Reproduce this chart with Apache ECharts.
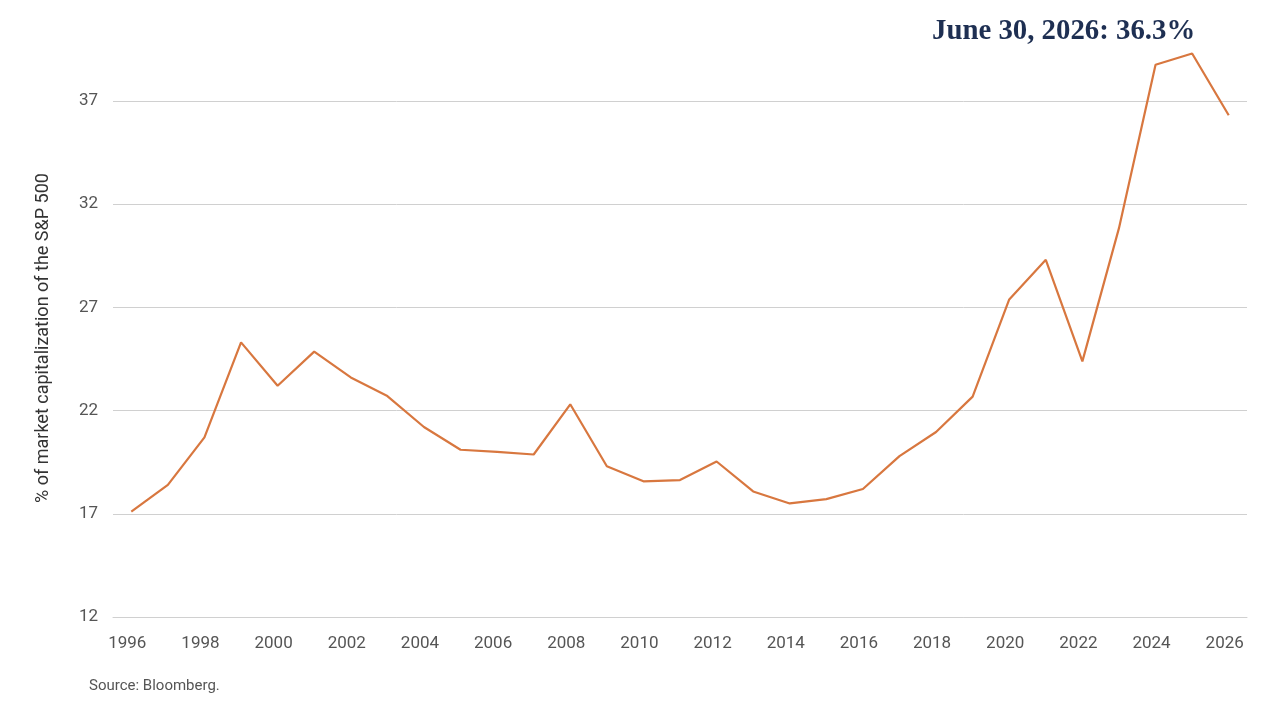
<!DOCTYPE html>
<html>
<head>
<meta charset="utf-8">
<style>
  html, body { margin: 0; padding: 0; background: #fff; }
  #chart { width: 1280px; height: 717px; }
</style>
<script src="https://cdn.jsdelivr.net/npm/echarts@6/dist/echarts.min.js"></script>
</head>
<body>
<div id="chart"></div>
<script>
const years = [
  '1996', '1997', '1998', '1999', '2000', '2001', '2002', '2003', '2004', '2005', '2006',
  '2007', '2008', '2009', '2010', '2011', '2012', '2013', '2014', '2015', '2016',
  '2017', '2018', '2019', '2020', '2021', '2022', '2023', '2024', '2025', '2026'
];
// share of S&P 500 market cap (%)
const shareValues = [
  17.1, 18.4, 20.7, 25.3, 23.2, 24.85, 23.6, 22.7, 21.2, 20.1, 20.0,
  19.87, 22.3, 19.3, 18.57, 18.63, 19.53, 18.08, 17.5, 17.71, 18.2,
  19.79, 20.96, 22.67, 27.38, 29.3, 24.38, 30.83, 38.74, 39.29, 36.3
];
const yTicks = { min: 12, max: 42, interval: 5 };
const annotationDate = 'June 30, 2026';

const chart = echarts.init(document.getElementById('chart'));
const lastValue = shareValues[shareValues.length - 1];

const option = {
  backgroundColor: '#ffffff',
  animation: false,
  grid: {
    left: 113, right: 33, top: -2.5, bottom: 100,
    containLabel: false,
    outerBoundsMode: 'none'
  },
  xAxis: {
    type: 'category',
    data: years,
    boundaryGap: true,
    axisLine: { show: true, lineStyle: { color: '#d0d0d0', width: 1 } },
    axisTick: { show: false },
    axisLabel: {
      interval: 1,
      color: '#555555',
      fontFamily: 'Roboto',
      fontSize: 17,
      margin: 18,
      padding: [0, 8, 0, 0]
    }
  },
  yAxis: {
    type: 'value',
    min: yTicks.min,
    max: yTicks.max,
    interval: yTicks.interval,
    axisLine: { show: false },
    axisTick: { show: false },
    axisLabel: {
      color: '#555555',
      fontFamily: 'Roboto',
      fontSize: 17,
      margin: 15,
      showMaxLabel: false
    },
    splitLine: { lineStyle: { color: '#d0d0d0', width: 1 } }
  },
  series: [{
    type: 'line',
    data: shareValues,
    symbol: 'none',
    lineStyle: { color: '#d8773f', width: 2.2 },
    clip: false
  }],
  graphic: [
    {
      type: 'text',
      left: 932,
      top: 17,
      style: {
        text: `${annotationDate}: ${lastValue}%`,
        font: 'bold 28.8px "Liberation Serif", "DejaVu Serif", serif',
        fill: '#1e2f52'
      }
    },
    {
      type: 'text',
      x: 43,
      y: 338,
      rotation: Math.PI / 2,
      style: {
        text: '% of market capitalization of the S&P 500',
        font: '18px Roboto, "Noto Sans", sans-serif',
        fill: '#333333',
        align: 'center',
        verticalAlign: 'middle'
      }
    },
    {
      type: 'text',
      left: 89,
      top: 679,
      style: {
        text: 'Source: Bloomberg.',
        font: '15px Roboto, "Noto Sans", sans-serif',
        fill: '#555555'
      }
    }
  ]
};

chart.setOption(option);
</script>
</body>
</html>
